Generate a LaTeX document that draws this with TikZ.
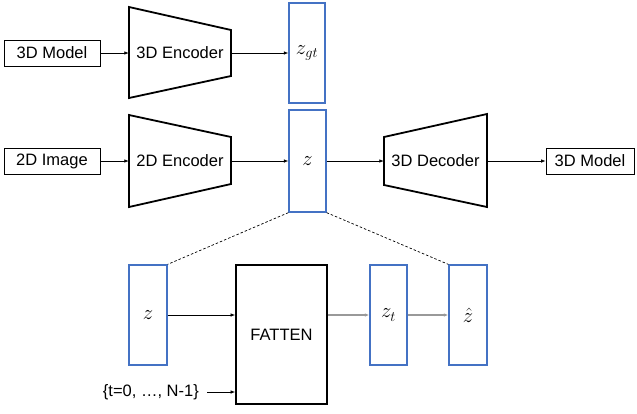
\documentclass[tikz,border=0pt]{standalone}
\usepackage{fontspec}
\setmainfont{Liberation Sans}
\usetikzlibrary{arrows.meta}
\definecolor{zblue}{HTML}{4472C4}
\definecolor{arrgray}{HTML}{999999}
\begin{document}
\begin{tikzpicture}[x=1bp,y=-1bp,
  font=\fontsize{16.5bp}{20bp}\selectfont,
  plain/.style={draw=black,line width=0.8bp,inner sep=0pt,minimum height=26bp},
  zbox/.style={draw=zblue,line width=1.3bp,inner sep=0pt,minimum width=37bp,minimum height=100bp,font=\fontsize{19bp}{22bp}\selectfont},
  trap/.style={draw=black,line width=1.8bp,line join=miter},
  hold/.style={inner sep=0pt,minimum height=10bp},
  arr/.style={-{Latex[length=4.5bp,width=3.5bp]},line width=0.7bp},
  garr/.style={-{Latex[length=4.5bp,width=3.5bp]},line width=1.5bp,draw=arrgray},
  dashline/.style={line width=0.7bp,dash pattern=on 2.5bp off 2bp}]
\useasboundingbox (0,0) rectangle (637,413);
% top row
\node[plain,minimum width=96bp] (m3in) at (52,53) {3D Model};
\draw[trap] (129,7) -- (231,30) -- (231,76) -- (129,98) -- cycle;
\node[hold,minimum width=102bp] (enc3) at (180,53) {3D Encoder};
\node[zbox,minimum width=36bp] (zgt) at (307,53) {$z_{gt}$};
\draw[arr] (m3in) -- (enc3);
\draw[arr] (enc3) -- (zgt);
% middle row
\node[plain,minimum width=96bp] (img) at (52,161) {2D Image};
\draw[trap] (129,115) -- (231,137) -- (231,184) -- (129,207) -- cycle;
\node[hold,minimum width=102bp] (enc2) at (180,161) {2D Encoder};
\node[zbox,minimum height=102bp] (z) at (307.5,161) {$z$};
\draw[trap] (384,137) -- (487,114) -- (487,207) -- (384,185) -- cycle;
\node[hold,minimum width=103bp] (dec) at (435.5,161) {3D Decoder};
\node[plain,minimum width=88bp] (m3out) at (590,161) {3D Model};
\draw[arr] (img) -- (enc2);
\draw[arr] (enc2) -- (z);
\draw[arr] (z) -- (dec);
\draw[arr] (dec) -- (m3out);
% bottom row
\node[zbox,minimum width=38bp] (zl) at (148,315) {$z$};
\node[draw=black,line width=1.8bp,inner sep=0pt,minimum width=91bp,minimum height=139bp] (fat) at (281.5,334.5) {FATTEN};
\node[zbox] (zt) at (388.5,315) {$z_t$};
\node[zbox,minimum width=38bp] (zh) at (468,315) {$\hat{z}$};
\node[inner sep=0pt,anchor=east] (tl) at (199,392) {\{t=0, …, N-1\}};
\draw[arr] (zl) -- (fat.west |- zl);
\draw[garr] (fat.east |- zt) -- (zt);
\draw[garr] (zt) -- (zh);
\draw[arr] ([xshift=8bp]tl.east) -- (fat.west |- tl);
\draw[dashline] (z.south west) -- (zl.north east);
\draw[dashline] (z.south east) -- (zh.north west);
\end{tikzpicture}
\end{document}
